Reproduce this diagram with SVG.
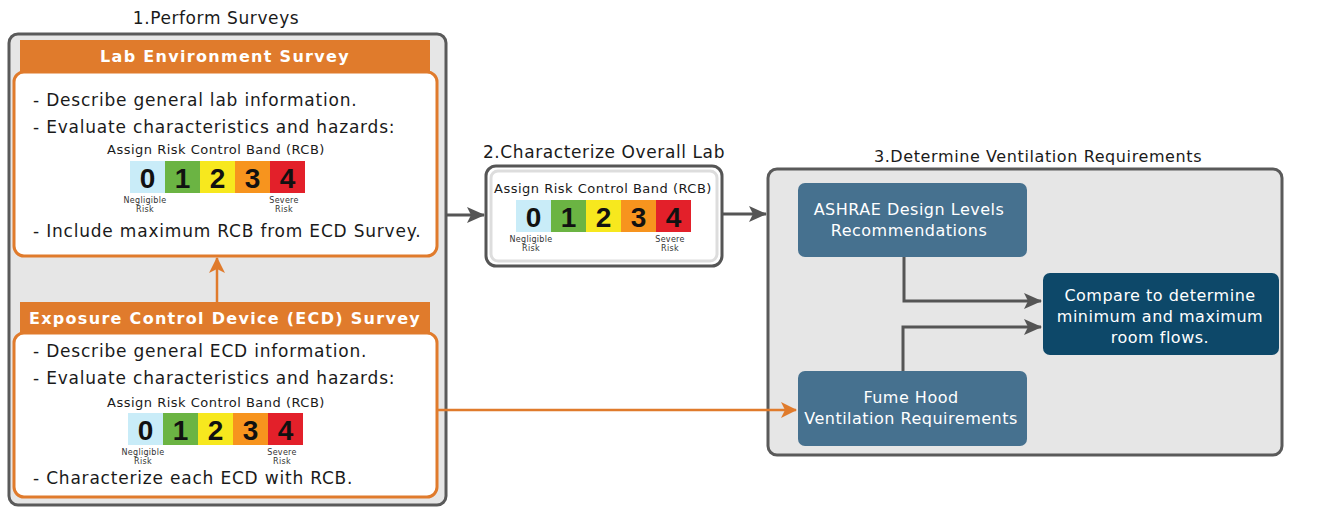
<svg xmlns="http://www.w3.org/2000/svg" width="1323" height="508" viewBox="0 0 1323 508">
  <style>
    text { font-family: "DejaVu Sans", Verdana, sans-serif; fill: #1a1a1a; }
    .title { font-size: 17px; text-anchor: middle; letter-spacing: 0.6px; }
    .title3 { font-size: 16px; text-anchor: middle; letter-spacing: 0.6px; }
    .panel { fill: #e6e6e6; stroke: #5a5a5a; stroke-width: 3; }
    .hdr { fill: #e07b2c; }
    .hdrtxt { font-size: 16px; font-weight: bold; fill: #ffffff; text-anchor: middle; letter-spacing: 1.3px; }
    .card { fill: #ffffff; stroke: #e07b2c; stroke-width: 3; }
    .item { font-size: 17px; letter-spacing: 0.8px; }
    .rcb { font-size: 13px; text-anchor: middle; letter-spacing: 0.5px; }
    .num { font-family: "Liberation Sans", Arial, sans-serif; font-size: 28px; font-weight: bold; text-anchor: middle; fill: #111; }
    .tiny { font-size: 8px; text-anchor: middle; fill: #333; letter-spacing: 0.3px; }
    .blue { fill: #46718f; }
    .dark { fill: #0d4869; }
    .wt { font-size: 16px; fill: #ffffff; text-anchor: middle; letter-spacing: 0.5px; }
    .gline { fill: none; stroke: #555555; stroke-width: 3; }
    .oline { fill: none; stroke: #e07b2c; stroke-width: 2.5; }
  </style>
  <defs>
    <marker id="gab" markerWidth="18" markerHeight="16" refX="17" refY="8" orient="auto" markerUnits="userSpaceOnUse" viewBox="0 0 18 16">
      <path d="M0,0 L18,8 L0,16 L4,8 Z" fill="#555555"/>
    </marker>
    <marker id="oa" markerWidth="16" markerHeight="16" refX="15" refY="8" orient="auto" markerUnits="userSpaceOnUse" viewBox="0 0 16 16">
      <path d="M0,0 L16,8 L0,16 L4,8 Z" fill="#e07b2c"/>
    </marker>
    <!-- five-band risk scale, 175 x 32 -->
    <g id="band">
      <rect x="0" y="0" width="35" height="32" fill="#c9ecf8"/>
      <rect x="35" y="0" width="35" height="32" fill="#6bb443"/>
      <rect x="70" y="0" width="35" height="32" fill="#f7e81e"/>
      <rect x="105" y="0" width="35" height="32" fill="#f7941e"/>
      <rect x="140" y="0" width="35" height="32" fill="#e3202a"/>
      <text class="num" x="17.5" y="27">0</text>
      <text class="num" x="52.5" y="27">1</text>
      <text class="num" x="87.5" y="27">2</text>
      <text class="num" x="122.5" y="27">3</text>
      <text class="num" x="157.5" y="27">4</text>
      <text class="tiny" x="15" y="42">Negligible</text>
      <text class="tiny" x="15" y="51">Risk</text>
      <text class="tiny" x="154" y="42">Severe</text>
      <text class="tiny" x="154" y="51">Risk</text>
    </g>
  </defs>

  <!-- Step 1 -->
  <g id="step1">
    <text class="title" x="216" y="24">1.Perform Surveys</text>
    <rect class="panel" x="9" y="34" width="437" height="471" rx="9"/>
  </g>

  <g id="lab-survey">
    <rect class="hdr" x="20" y="40" width="410" height="34"/>
    <text class="hdrtxt" x="225" y="62">Lab Environment Survey</text>
    <rect class="card" x="14" y="72" width="423" height="184" rx="10"/>
    <text class="item" x="33" y="106">- Describe general lab information.</text>
    <text class="item" x="33" y="133">- Evaluate characteristics and hazards:</text>
    <text class="rcb" x="216" y="154">Assign Risk Control Band (RCB)</text>
    <use href="#band" x="130" y="161"/>
    <text class="item" x="33" y="237">- Include maximum RCB from ECD Survey.</text>
  </g>

  <g id="ecd-survey">
    <rect class="hdr" x="20" y="302" width="410" height="33"/>
    <text class="hdrtxt" x="225" y="324">Exposure Control Device (ECD) Survey</text>
    <rect class="card" x="14" y="333" width="423" height="164" rx="10"/>
    <text class="item" x="33" y="357">- Describe general ECD information.</text>
    <text class="item" x="33" y="384">- Evaluate characteristics and hazards:</text>
    <text class="rcb" x="216" y="407">Assign Risk Control Band (RCB)</text>
    <use href="#band" x="128" y="413"/>
    <text class="item" x="33" y="484">- Characterize each ECD with RCB.</text>
  </g>

  <!-- Step 2 -->
  <g id="step2">
    <text class="title" x="604" y="158">2.Characterize Overall Lab</text>
    <rect x="486" y="166" width="236" height="100" rx="10" fill="#ffffff" stroke="#555555" stroke-width="3"/>
    <rect x="491" y="171" width="226" height="90" rx="7" fill="none" stroke="#dddddd" stroke-width="3"/>
    <text class="rcb" x="603" y="193">Assign Risk Control Band (RCB)</text>
    <use href="#band" x="516" y="200"/>
  </g>

  <!-- Step 3 -->
  <g id="step3">
    <text class="title3" x="1038" y="162">3.Determine Ventilation Requirements</text>
    <rect class="panel" x="768" y="169" width="514" height="286" rx="9"/>
  </g>

  <g id="ashrae">
    <rect class="blue" x="798" y="183" width="229" height="74" rx="7"/>
    <text class="wt" x="909" y="215">ASHRAE Design Levels</text>
    <text class="wt" x="909" y="236">Recommendations</text>
  </g>

  <g id="fume-hood">
    <rect class="blue" x="798" y="371" width="229" height="75" rx="7"/>
    <text class="wt" x="911" y="403">Fume Hood</text>
    <text class="wt" x="911" y="424">Ventilation Requirements</text>
  </g>

  <g id="compare">
    <rect class="dark" x="1043" y="273" width="236" height="82" rx="7"/>
    <text class="wt" x="1160" y="301">Compare to determine</text>
    <text class="wt" x="1160" y="322">minimum and maximum</text>
    <text class="wt" x="1160" y="343">room flows.</text>
  </g>

  <!-- Connectors -->
  <g id="connectors">
    <path class="oline" d="M217,302 V258" marker-end="url(#oa)"/>
    <path class="gline" d="M446,215 H484" marker-end="url(#gab)"/>
    <path class="gline" d="M722,214 H766" marker-end="url(#gab)"/>
    <path class="gline" d="M904,257 V301 H1041" marker-end="url(#gab)"/>
    <path class="gline" d="M903,371 V327 H1041" marker-end="url(#gab)"/>
    <path class="oline" d="M437,410 H796" marker-end="url(#oa)"/>
  </g>
</svg>
